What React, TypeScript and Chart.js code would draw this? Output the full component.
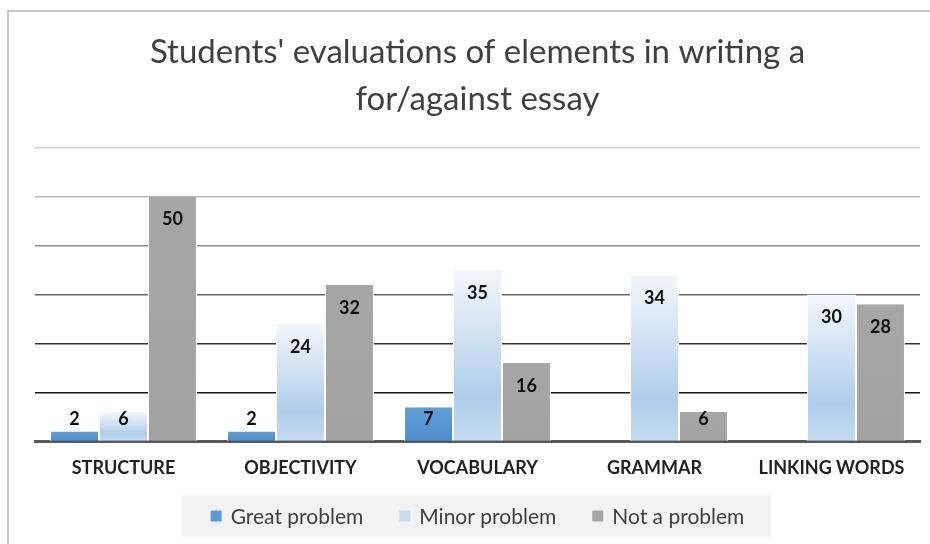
import React, { useEffect, useRef } from "react";
import { Chart, registerables } from "chart.js";

Chart.register(...registerables);

const categories = ["STRUCTURE", "OBJECTIVITY", "VOCABULARY", "GRAMMAR", "LINKING WORDS"];
const greatProblem = [2, 2, 7, 0, 0];
const minorProblem = [6, 24, 35, 34, 30];
const notAProblem = [50, 32, 16, 6, 28];
const seriesNames = ["Great problem", "Minor problem", "Not a problem"];
const titleLines = ["Students' evaluations of elements in writing a", "for/against essay"];

const FONT = "Lato, 'Open Sans', sans-serif";
const legendSwatches = ["#5b9bd5", "#c9ddf1", "#a5a5a5"];

const gridColors: Record<number, string> = {
  0: "rgba(0,0,0,0)",
  10: "#151515",
  20: "#333333",
  30: "#6a6a6a",
  40: "#8c8c8c",
  50: "#b8b8b8",
  60: "#cfcfcf",
};

const gradientPlugin = {
  id: "barGradients",
  beforeDatasetsDraw(chart: any) {
    const ctx = chart.ctx;
    chart.data.datasets.forEach((ds: any, i: number) => {
      const meta = chart.getDatasetMeta(i);
      meta.data.forEach((el: any) => {
        const top = el.y;
        const base = el.base;
        if (!isFinite(top) || !isFinite(base) || base - top < 1) return;
        const g = ctx.createLinearGradient(0, top, 0, base);
        if (i === 0) {
          g.addColorStop(0, "#5f9fd8");
          g.addColorStop(1, "#4f8ecb");
        } else if (i === 1) {
          g.addColorStop(0, "#f3f7fc");
          g.addColorStop(0.75, "#b0cdea");
          g.addColorStop(1, "#c5dbf0");
        } else {
          g.addColorStop(0, "#a6a6a6");
          g.addColorStop(1, "#a3a3a3");
        }
        el.options = Object.assign({}, el.options, { backgroundColor: g });
      });
    });
  },
};

const labelPlugin = {
  id: "barLabels",
  afterDatasetsDraw(chart: any) {
    const ctx = chart.ctx;
    ctx.save();
    ctx.font = `bold 18px ${FONT}`;
    ctx.fillStyle = "#111111";
    ctx.textAlign = "center";
    ctx.textBaseline = "middle";
    chart.data.datasets.forEach((ds: any, i: number) => {
      const meta = chart.getDatasetMeta(i);
      meta.data.forEach((el: any, j: number) => {
        const v = ds.data[j];
        if (!v) return;
        const y = Math.min(el.y + 23, el.base - 21);
        ctx.fillText(String(v), el.x, y);
      });
    });
    ctx.restore();
  },
};

const customLegendPlugin = {
  id: "customLegend",
  afterDraw(chart: any) {
    const ctx = chart.ctx;
    const area = chart.chartArea;
    const cx = (area.left + area.right) / 2;
    const cy = chart.height - 27;
    ctx.save();
    ctx.fillStyle = "#f2f2f2";
    ctx.fillRect(cx - 296, cy - 20.5, 590, 41);
    ctx.font = `21px ${FONT}`;
    ctx.textBaseline = "middle";
    ctx.textAlign = "left";
    const box = 11;
    const gapBoxText = 9;
    const gapItems = 36;
    const widths = seriesNames.map((n) => ctx.measureText(n).width);
    const total = widths.reduce((a, w) => a + box + gapBoxText + w, 0) + gapItems * (seriesNames.length - 1);
    let x = cx - total / 2;
    seriesNames.forEach((n, i) => {
      ctx.fillStyle = legendSwatches[i];
      ctx.fillRect(x, cy - box / 2, box, box);
      ctx.fillStyle = "#404040";
      ctx.fillText(n, x + box + gapBoxText, cy + 1);
      x += box + gapBoxText + widths[i] + gapItems;
    });
    ctx.restore();
  },
};

export default function App() {
  const ref = useRef<HTMLCanvasElement | null>(null);

  useEffect(() => {
    if (!ref.current) return;
    const chart = new Chart(ref.current, {
      type: "bar",
      data: {
        labels: categories,
        datasets: [
          { label: seriesNames[0], data: greatProblem, backgroundColor: "#5b9bd5" },
          { label: seriesNames[1], data: minorProblem, backgroundColor: "#c5dbf0" },
          { label: seriesNames[2], data: notAProblem, backgroundColor: "#a5a5a5" },
        ].map((d) => ({
          ...d,
          borderColor: "#ffffff",
          borderWidth: { left: 1, right: 1, top: 0, bottom: 0 },
          borderSkipped: "bottom",
          categoryPercentage: 0.83,
          barPercentage: 1.0,
        })),
      },
      options: {
        animation: false,
        responsive: false,
        devicePixelRatio: 1,
        layout: { padding: { left: 25, right: 8, top: 15, bottom: 56 } },
        plugins: {
          title: {
            display: true,
            text: titleLines,
            color: "#404040",
            font: { family: FONT, size: 33, weight: "normal", lineHeight: 1.45 },
            padding: { top: 0, bottom: 24 },
          },
          legend: { display: false },
          tooltip: { enabled: false },
        },
        scales: {
          x: {
            grid: { display: false },
            border: { display: true, color: "#595959", width: 3 },
            ticks: {
              color: "#222222",
              font: { family: FONT, size: 18, weight: "bold" },
              padding: 8,
            },
          },
          y: {
            min: 0,
            max: 60,
            ticks: { display: false, stepSize: 10 },
            border: { display: false },
            grid: {
              color: (c: any) => gridColors[c.tick?.value] ?? "#cccccc",
              lineWidth: 1.5,
              drawTicks: false,
            },
          },
        },
      },
      plugins: [gradientPlugin, labelPlugin, customLegendPlugin],
    } as any);
    return () => chart.destroy();
  }, []);

  return (
    <div style={{ position: "fixed", left: 0, top: 0, width: 930, height: 544, background: "#fff", overflow: "hidden" }}>
      <div
        style={{
          position: "absolute",
          left: 7,
          top: 10,
          width: 940,
          height: 560,
          borderLeft: "2px solid #c6c6c6",
          borderTop: "2px solid #c6c6c6",
        }}
      />
      <canvas ref={ref} width={918} height={530} style={{ position: "absolute", left: 10, top: 13 }} />
    </div>
  );
}
